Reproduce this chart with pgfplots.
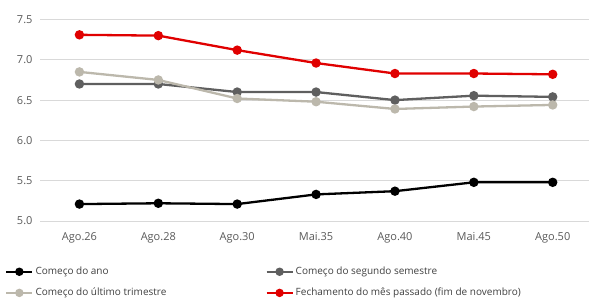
\documentclass[border=0pt]{standalone}
\usepackage{pgfplots}
\pgfplotsset{compat=1.18}
\usepackage{fontspec}
\setmainfont{Open Sans}
\definecolor{cred}{HTML}{E00000}
\definecolor{cdark}{HTML}{5F5F5F}
\definecolor{clight}{HTML}{BCB8AC}
\definecolor{cgrid}{HTML}{D9D9D9}
\definecolor{ctick}{HTML}{595959}
\definecolor{ctext}{HTML}{404040}
\begin{document}
\begin{tikzpicture}
\begin{axis}[
  at={(0,0)}, anchor=south west,
  scale only axis, width=549pt, height=201.5pt,
  xmin=-0.5, xmax=6.46, ymin=5, ymax=7.5,
  axis line style={draw=none},
  major tick length=0pt,
  ymajorgrids, grid style={color=cgrid, line width=0.8pt},
  xtick={0,...,6},
  xticklabels={Ago.26,Ago.28,Ago.30,Mai.35,Ago.40,Mai.45,Ago.50},
  ytick={5,5.5,6,6.5,7,7.5},
  /pgf/number format/assume math mode=true,
  yticklabel={\pgfmathprintnumber[fixed,fixed zerofill,precision=1]{\tick}},
  ticklabel style={font=\fontsize{11}{13}\selectfont, color=ctick},
  yticklabel style={xshift=-4pt},
  xticklabel style={yshift=-8pt},
  every axis plot/.append style={line width=2.3pt, mark=*, mark size=3.5pt, mark options={solid}},
  legend columns=2,
  legend cell align=left,
  legend image code/.code={\draw[mark repeat=2,mark phase=2,#1,mark size=3pt] plot coordinates {(0pt,0pt) (13pt,0pt) (26pt,0pt)};},
  legend style={at={(0,0)}, anchor=north west, xshift=-35pt, yshift=-44pt,
    draw=none, inner sep=0pt, font=\fontsize{10}{12}\selectfont, text=ctext,
    row sep=8pt, /tikz/column 2/.style={column sep=97pt},
    nodes={inner xsep=2pt}},
  clip=false,
]
\addplot[color=black] coordinates {(0,5.21) (1,5.22) (2,5.21) (3,5.33) (4,5.37) (5,5.48) (6,5.48)};
\addlegendentry{Começo do ano}
\addplot[color=cdark] coordinates {(0,6.70) (1,6.70) (2,6.60) (3,6.60) (4,6.50) (5,6.555) (6,6.54)};
\addlegendentry{Começo do segundo semestre}
\addplot[color=clight] coordinates {(0,6.85) (1,6.75) (2,6.52) (3,6.48) (4,6.39) (5,6.42) (6,6.44)};
\addlegendentry{Começo do último trimestre}
\addplot[color=cred] coordinates {(0,7.31) (1,7.30) (2,7.12) (3,6.96) (4,6.83) (5,6.83) (6,6.82)};
\addlegendentry{Fechamento do mês passado (fim de novembro)}
\end{axis}
\pgfresetboundingbox
\useasboundingbox (-40pt,-80pt) rectangle (549pt,221pt);
\end{tikzpicture}
\end{document}
